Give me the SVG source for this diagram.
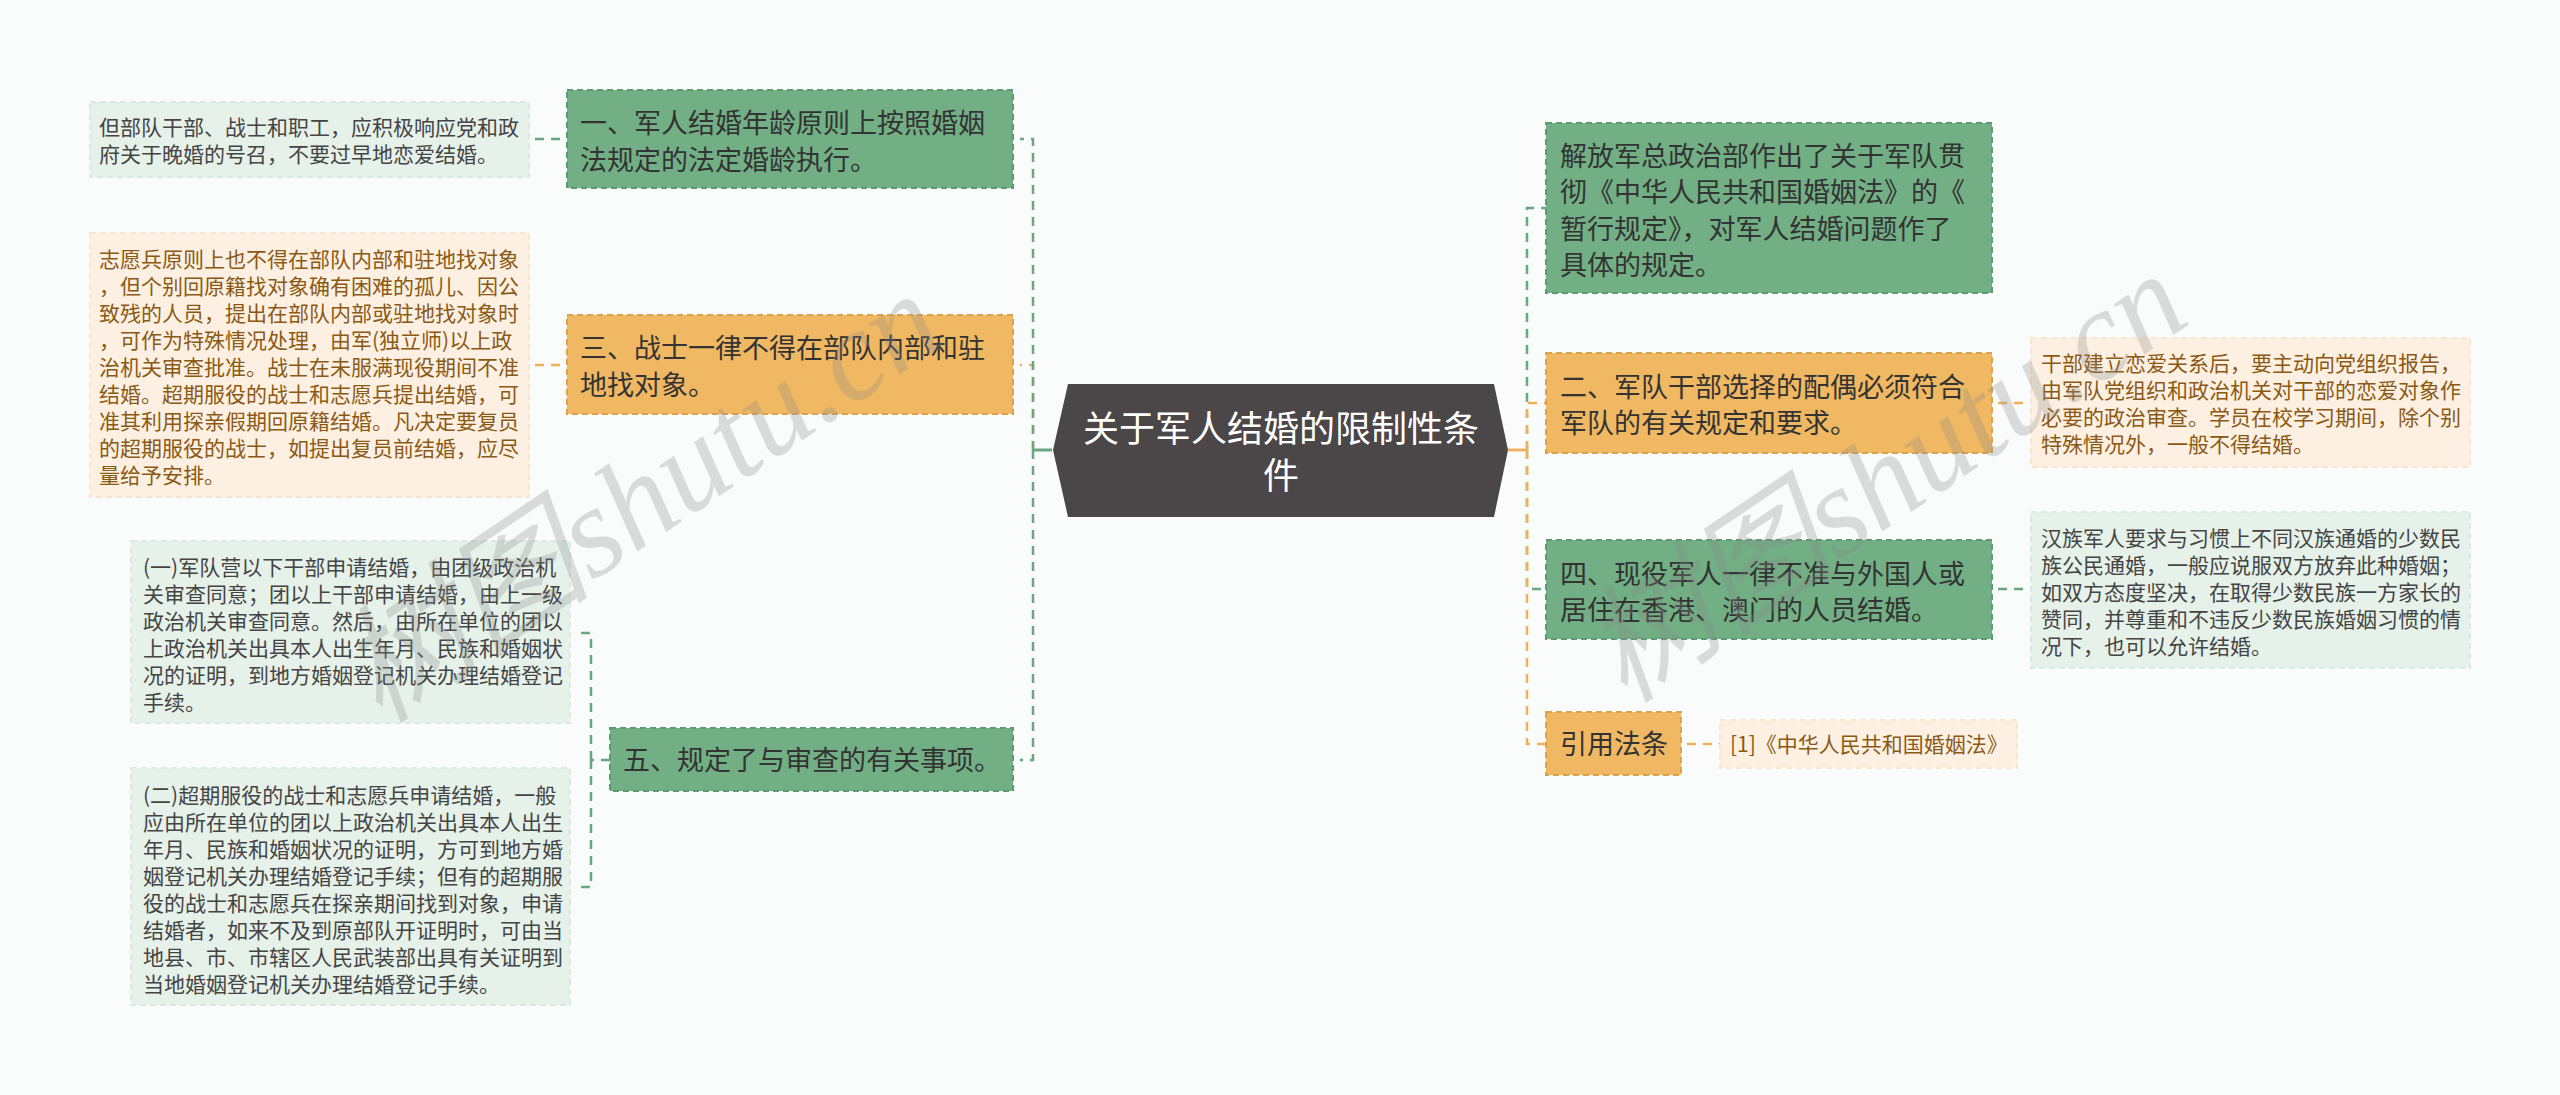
<svg xmlns="http://www.w3.org/2000/svg" width="2560" height="1095" viewBox="0 0 2560 1095">
<style>
text{font-family:"Noto Sans CJK SC","Noto Sans",sans-serif}
.mg{fill:#72af85;stroke:#5c9b70;stroke-width:2;stroke-dasharray:6 4}
.mo{fill:#f0b862;stroke:#dca24a;stroke-width:2;stroke-dasharray:6 4}
.lg{fill:#e6f1ea;stroke:#dbeae0;stroke-width:2;stroke-dasharray:6 4}
.lo{fill:#fdf0e2;stroke:#f7e6d1;stroke-width:2;stroke-dasharray:6 4}
.tm{font-size:27px;fill:#333333}
.tld{font-size:21px;fill:#444444}
.tlb{font-size:21px;fill:#8a5a14}
.cg{fill:none;stroke:#67a87e;stroke-width:2.5;stroke-dasharray:9 7}
.co{fill:none;stroke:#efb25a;stroke-width:2.5;stroke-dasharray:9 7}
.sg{fill:none;stroke:#67a87e;stroke-width:3}
.so{fill:none;stroke:#efb25a;stroke-width:3}
.wm{font-family:"Liberation Serif","Noto Sans CJK SC",serif;font-style:italic;font-size:128px;fill:#8a8a8a;opacity:0.28}
</style>
<rect width="2560" height="1095" fill="#f9fcfb"/>

<g id="connectors">
  <path class="co" d="M1033,450 V365 H1020"/>
  <path class="cg" d="M1033,450 V139 H1020"/>
  <path class="cg" d="M1033,450 V760 H1020"/>
  <path class="sg" d="M1052,450 H1033"/>
  <path class="cg" d="M535,139 H567"/>
  <path class="co" d="M535,365 H567"/>
  <path class="cg" d="M610,760 H591"/>
  <path class="cg" d="M591,760 V633 H576"/>
  <path class="cg" d="M591,760 V887 H576"/>
  <path class="cg" d="M1527,450 V208 H1546"/>
  <path class="cg" d="M1527,450 V589 H1546"/>
  <path class="co" d="M1527,450 V403 H1546"/>
  <path class="co" d="M1527,450 V744 H1546"/>
  <path class="so" d="M1508,450 H1527"/>
  <path class="co" d="M1998,403 H2031"/>
  <path class="cg" d="M1998,589 H2031"/>
  <path class="co" d="M1687,744 H1720"/>
</g>

<g id="root">
  <polygon points="1053,450 1068,384 1494,384 1508,450 1494,517 1068,517" fill="#4b4647"/>
  <text x="1281" y="442" text-anchor="middle" font-size="36" fill="#ffffff">关于军人结婚的限制性条</text>
  <text x="1281" y="489" text-anchor="middle" font-size="36" fill="#ffffff">件</text>
</g>

<g id="n1">
  <rect class="mg" x="567" y="90" width="446" height="98"/>
  <text class="tm" x="580" y="133">一、军人结婚年龄原则上按照婚姻</text>
  <text class="tm" x="580" y="170">法规定的法定婚龄执行。</text>
</g>
<g id="n1a">
  <rect class="lg" x="90" y="102" width="439" height="75"/>
  <text class="tld" x="99" y="135">但部队干部、战士和职工，应积极响应党和政</text>
  <text class="tld" x="99" y="162">府关于晚婚的号召，不要过早地恋爱结婚。</text>
</g>

<g id="n3">
  <rect class="mo" x="567" y="315" width="446" height="99"/>
  <text class="tm" x="580" y="358">三、战士一律不得在部队内部和驻</text>
  <text class="tm" x="580" y="395">地找对象。</text>
</g>
<g id="n3a">
  <rect class="lo" x="90" y="233" width="439" height="264"/>
  <text class="tlb" x="99" y="267">志愿兵原则上也不得在部队内部和驻地找对象</text>
  <text class="tlb" x="99" y="294">，但个别回原籍找对象确有困难的孤儿、因公</text>
  <text class="tlb" x="99" y="321">致残的人员，提出在部队内部或驻地找对象时</text>
  <text class="tlb" x="99" y="348">，可作为特殊情况处理，由军(独立师)以上政</text>
  <text class="tlb" x="99" y="375">治机关审查批准。战士在未服满现役期间不准</text>
  <text class="tlb" x="99" y="402">结婚。超期服役的战士和志愿兵提出结婚，可</text>
  <text class="tlb" x="99" y="429">准其利用探亲假期回原籍结婚。凡决定要复员</text>
  <text class="tlb" x="99" y="456">的超期服役的战士，如提出复员前结婚，应尽</text>
  <text class="tlb" x="99" y="483">量给予安排。</text>
</g>

<g id="n5">
  <rect class="mg" x="610" y="728" width="403" height="63"/>
  <text class="tm" x="623" y="770">五、规定了与审查的有关事项。</text>
</g>
<g id="n5a">
  <rect class="lg" x="131" y="541" width="439" height="182"/>
  <text class="tld" x="143" y="575">(一)军队营以下干部申请结婚，由团级政治机</text>
  <text class="tld" x="143" y="602">关审查同意；团以上干部申请结婚，由上一级</text>
  <text class="tld" x="143" y="629">政治机关审查同意。然后，由所在单位的团以</text>
  <text class="tld" x="143" y="656">上政治机关出具本人出生年月、民族和婚姻状</text>
  <text class="tld" x="143" y="683">况的证明，到地方婚姻登记机关办理结婚登记</text>
  <text class="tld" x="143" y="710">手续。</text>
</g>
<g id="n5b">
  <rect class="lg" x="131" y="768" width="439" height="237"/>
  <text class="tld" x="143" y="803">(二)超期服役的战士和志愿兵申请结婚，一般</text>
  <text class="tld" x="143" y="830">应由所在单位的团以上政治机关出具本人出生</text>
  <text class="tld" x="143" y="857">年月、民族和婚姻状况的证明，方可到地方婚</text>
  <text class="tld" x="143" y="884">姻登记机关办理结婚登记手续；但有的超期服</text>
  <text class="tld" x="143" y="911">役的战士和志愿兵在探亲期间找到对象，申请</text>
  <text class="tld" x="143" y="938">结婚者，如来不及到原部队开证明时，可由当</text>
  <text class="tld" x="143" y="965">地县、市、市辖区人民武装部出具有关证明到</text>
  <text class="tld" x="143" y="992">当地婚姻登记机关办理结婚登记手续。</text>
</g>

<g id="r1">
  <rect class="mg" x="1546" y="123" width="446" height="170"/>
  <text class="tm" x="1560" y="166">解放军总政治部作出了关于军队贯</text>
  <text class="tm" x="1560" y="202">彻《中华人民共和国婚姻法》的《</text>
  <text class="tm" x="1560" y="239">暂行规定》，对军人结婚问题作了</text>
  <text class="tm" x="1560" y="275">具体的规定。</text>
</g>

<g id="r2">
  <rect class="mo" x="1546" y="353" width="446" height="100"/>
  <text class="tm" x="1560" y="397">二、军队干部选择的配偶必须符合</text>
  <text class="tm" x="1560" y="433">军队的有关规定和要求。</text>
</g>
<g id="r2a">
  <rect class="lo" x="2031" y="338" width="439" height="129"/>
  <text class="tlb" x="2041" y="371">干部建立恋爱关系后，要主动向党组织报告，</text>
  <text class="tlb" x="2041" y="398">由军队党组织和政治机关对干部的恋爱对象作</text>
  <text class="tlb" x="2041" y="425">必要的政治审查。学员在校学习期间，除个别</text>
  <text class="tlb" x="2041" y="452">特殊情况外，一般不得结婚。</text>
</g>

<g id="r4">
  <rect class="mg" x="1546" y="540" width="446" height="99"/>
  <text class="tm" x="1560" y="584">四、现役军人一律不准与外国人或</text>
  <text class="tm" x="1560" y="620">居住在香港、澳门的人员结婚。</text>
</g>
<g id="r4a">
  <rect class="lg" x="2031" y="512" width="439" height="156"/>
  <text class="tld" x="2041" y="546">汉族军人要求与习惯上不同汉族通婚的少数民</text>
  <text class="tld" x="2041" y="573">族公民通婚，一般应说服双方放弃此种婚姻；</text>
  <text class="tld" x="2041" y="600">如双方态度坚决，在取得少数民族一方家长的</text>
  <text class="tld" x="2041" y="627">赞同，并尊重和不违反少数民族婚姻习惯的情</text>
  <text class="tld" x="2041" y="654">况下，也可以允许结婚。</text>
</g>

<g id="r5">
  <rect class="mo" x="1546" y="712" width="135" height="63"/>
  <text class="tm" x="1560" y="754">引用法条</text>
</g>
<g id="r5a">
  <rect class="lo" x="1720" y="720" width="297" height="48"/>
  <text class="tlb" x="1730" y="752">[1]《中华人民共和国婚姻法》</text>
</g>

<g id="watermark">
  <text class="wm" transform="translate(380,725) rotate(-34)">树图shutu.cn</text>
  <text class="wm" transform="translate(1625,705) rotate(-34)">树图shutu.cn</text>
</g>
</svg>
